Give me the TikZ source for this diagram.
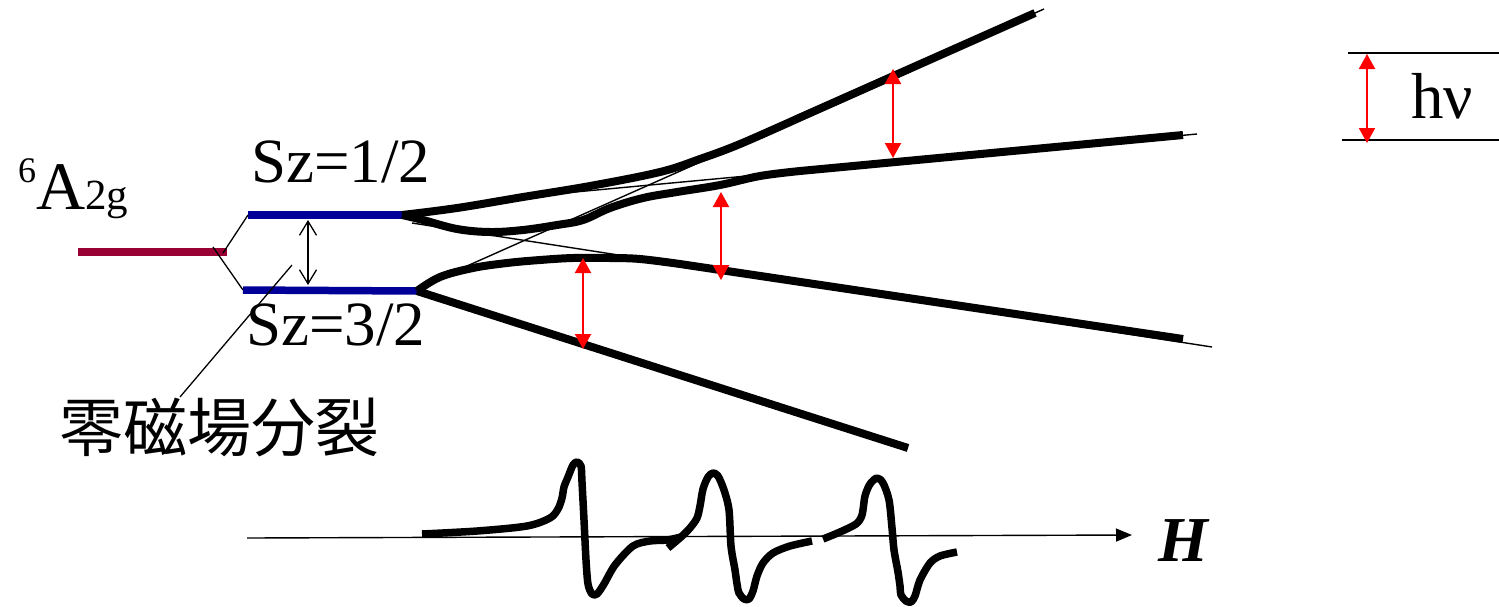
\documentclass[tikz,border=0pt]{standalone}
\usepackage{fontspec}
\setmainfont{Liberation Serif}
\newfontfamily\cjk{Noto Sans CJK JP}
\usetikzlibrary{arrows.meta}
\definecolor{maroon}{HTML}{990033}
\definecolor{navy}{HTML}{000099}
\tikzset{
  level/.style={line width=7.5pt},
  fan/.style={line width=8pt, line join=round},
  guide/.style={line width=1.4pt},
  thinline/.style={line width=1.3pt},
  redarrow/.style={line width=2pt, red, {Triangle[length=15pt,width=16pt]}-{Triangle[length=15pt,width=16pt]}},
  spec/.style={line width=7.5pt, line join=round},
  lbl/.style={inner sep=0pt, anchor=base west}
}
\begin{document}
\begin{tikzpicture}[x=1pt,y=-1pt]
\path[use as bounding box] (0,0) rectangle (1499,606);

% energy levels
\coordinate (g0) at (78,252);
\coordinate (g1) at (227,252);
\coordinate (u0) at (248,215);
\coordinate (u1) at (402,215);
\coordinate (l0) at (243,290);
\coordinate (l1) at (417,291);
\draw[level, maroon] (g0) -- (g1);
\draw[level, navy] (u0) -- (u1);
\draw[level, navy] (l0) -- (l1);
\draw[thinline] (223,253) -- (u0);
\draw[thinline] (213,247) -- (l0);

% zero field splitting arrow and leader
\coordinate (da) at (308,220);
\coordinate (db) at (308,285);
\draw[thinline, {Straight Barb[length=14pt,width=17pt]}-{Straight Barb[length=14pt,width=17pt]}] (da) -- (db);
\coordinate (ld0) at (292,265);
\coordinate (ld1) at (180,397);
\draw[thinline] (ld0) -- (ld1);

% thin straight guide lines
\draw[guide] (440,278) -- (1044,9);
\draw[guide] (500,199) -- (1197,134);
\draw[guide] (412,223) -- (1212,347);

% thick Zeeman branches
\draw[fan] plot[smooth, tension=0.6] coordinates {(u1) (457,208) (523,197) (590,186) (660,172) (700,159) (740,144) (800,117.5)} -- (1035,13);
\draw[fan] plot[smooth, tension=0.6] coordinates {(u1) (423,220) (457,229) (490,232) (523,230) (557,225) (583,220) (610,208) (643,198) (677,192) (720,185) (760,176) (800,171)} -- (1183,135);
\draw[fan] plot[smooth, tension=0.6] coordinates {(l1) (440,277) (473,268) (507,263) (540,260) (573,258) (610,258) (640,259) (680,264)} -- (1183,339);
\draw[fan] (l1) -- (908,448);

% red transitions
\draw[redarrow] (583,258) -- (583,349);
\draw[redarrow] (721,192) -- (721,280);
\draw[redarrow] (893,69) -- (893,158);

% h nu scale
\draw[thinline] (1348,53) -- (1499,53);
\draw[thinline] (1342,140) -- (1499,140);
\draw[redarrow] (1367,54) -- (1367,143);

% field axis
\coordinate (ax0) at (247,538);
\coordinate (ax1) at (1132,535);
\draw[line width=1.4pt, -{Triangle[length=16pt,width=13pt]}] (ax0) -- (ax1);

% EPR spectrum
\draw[spec] plot[smooth, tension=0.5] coordinates {(422,534) (477,531) (527,526) (550,518) (558,509) (562,498) (564,487) (568,477) (573,465) (577,462) (581,466) (582,482) (584,520) (586,560) (588,584) (592,594) (597,594) (604,584) (615,565) (633,546) (650,541) (667,540) (681,537)};
\draw[spec] plot[smooth, tension=0.5] coordinates {(668,548) (681,537) (690,528) (697,518) (700,506) (703,489) (708,477) (713,473) (718,476) (724,490) (729,510) (731,546) (735,570) (737,584) (739,593) (744,599) (749,599) (753,591) (757,576) (763,563) (773,553) (790,546) (812,541)};
\draw[spec] plot[smooth, tension=0.5] coordinates {(823,539) (840,532) (856,524) (862,515) (865,496) (870,484) (877,478) (883,483) (889,500) (892,528) (894,550) (898,572) (900,586) (901,595) (906,601) (911,602) (915,596) (920,580) (930,563) (940,556) (957,552)};

% labels
\node[lbl] (ta) at (18,209) {\raisebox{27pt}{\fontsize{36}{36}\selectfont 6}\fontsize{68}{68}\selectfont A\fontsize{43}{43}\selectfont 2g};
\node[lbl] (s1) at (251,182) {\fontsize{63}{63}\selectfont Sz=1/2};
\node[lbl] (s3) at (246,345) {\fontsize{63}{63}\selectfont Sz=3/2};
\node[lbl] (zf) at (59,451) {\cjk\fontsize{64}{64}\selectfont 零磁場分裂};
\node[lbl] (hv) at (1411,118) {\fontsize{65}{65}\selectfont hν};
\node[lbl] (hh) at (1158,561) {\fontsize{64}{64}\selectfont\bfseries\itshape H};
\end{tikzpicture}
\end{document}
